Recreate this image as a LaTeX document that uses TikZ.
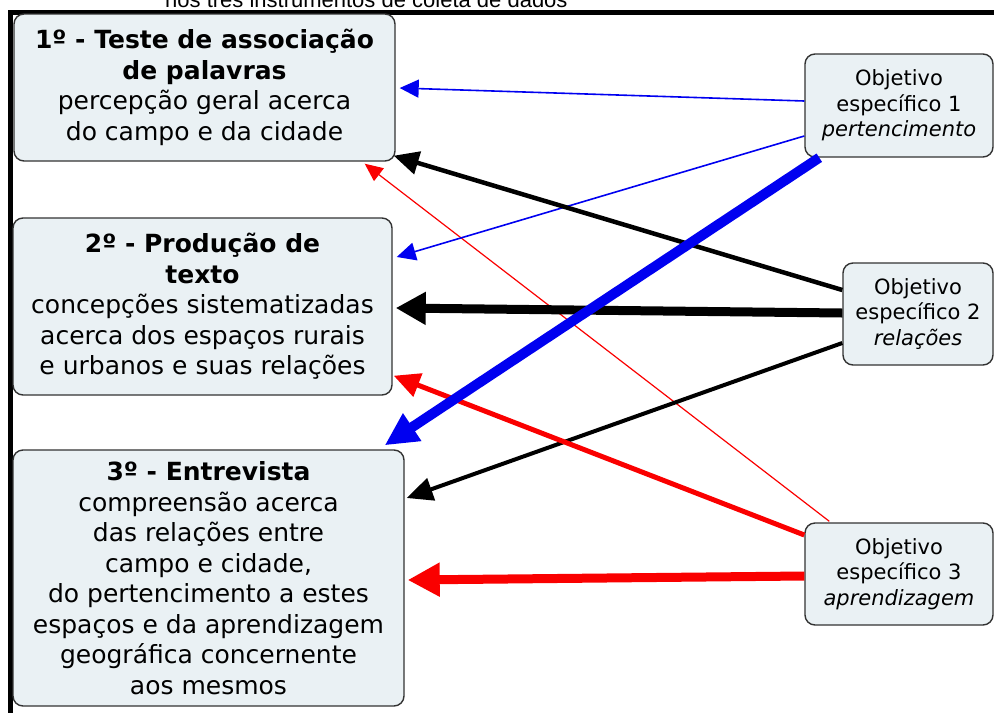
\documentclass[tikz,border=0pt]{standalone}
\usepackage{fontspec}
\setmainfont{DejaVu Sans}
\newfontfamily\capfont{Liberation Sans}
\usetikzlibrary{arrows.meta,calc}
\definecolor{boxfill}{HTML}{EAF1F4}
\definecolor{boxline}{HTML}{333333}
\definecolor{myblue}{RGB}{0,0,240}
\definecolor{myred}{RGB}{250,0,0}
\tikzset{
  instbox/.style={draw=boxline, line width=1.4pt, fill=boxfill, rounded corners=10pt,
    align=center, inner sep=0pt, font=\fontsize{25}{30.5}\selectfont},
  objbox/.style={draw=boxline, line width=1.4pt, fill=boxfill, rounded corners=10pt,
    align=center, inner sep=0pt, font=\fontsize{21}{25.5}\selectfont},
  conn/.style={line cap=butt},
}
\begin{document}
\begin{tikzpicture}[x=1pt,y=-1pt]
\useasboundingbox (0,0) rectangle (994,713);
\begin{scope}
\clip (0,0) rectangle (994,713);
\node[anchor=base west, inner sep=0pt, font=\capfont\fontsize{22}{26}\selectfont] (cap) at (165,7) {nos três instrumentos de coleta de dados};
\end{scope}
% frame
\fill[black] (8,10) rectangle (994,15);
\fill[black] (8,10) rectangle (13,713);

% instrument boxes
\node[instbox, minimum width=381pt, minimum height=147pt] (b1) at (204.5,87.5)
  {\textbf{1º - Teste de associação}\\\textbf{de palavras}\\percepção geral acerca\\do campo e da cidade};
\node[instbox, minimum width=379pt, minimum height=177pt] (b2) at (202.5,306.5)
  {\textbf{2º - Produção de}\\\textbf{texto}\\concepções sistematizadas\\acerca dos espaços rurais\\e urbanos e suas relações};
\node[instbox, minimum width=391pt, minimum height=256pt] (b3) at (208.5,578)
  {\textbf{3º - Entrevista}\\compreensão acerca\\das relações entre\\campo e cidade,\\do pertencimento a estes\\espaços e da aprendizagem\\geográfica concernente\\aos mesmos};

% objective boxes
\node[objbox, minimum width=188pt, minimum height=103pt] (o1) at (899,105.5)
  {Objetivo\\específico 1\\\textit{pertencimento}};
\node[objbox, minimum width=150pt, minimum height=102pt] (o2) at (918,314)
  {Objetivo\\específico 2\\\textit{relações}};
\node[objbox, minimum width=188pt, minimum height=102pt] (o3) at (899,574)
  {Objetivo\\específico 3\\\textit{aprendizagem}};

% connectors
\draw[conn, myred, line width=1.2pt, -{Triangle[length=18pt,width=16pt]}]
  ($(o3.north west)+(25,-1)$) -- ($(b1.south east)+(-31,2)$);
\draw[conn, myblue, line width=1.6pt, -{Triangle[length=19pt,width=18pt]}]
  ($(o1.west)+(0,-4.5)$) -- ($(b1.east)+(4,0.5)$);
\draw[conn, myblue, line width=1.6pt, -{Triangle[length=19pt,width=18pt]}]
  ($(o1.west)+(0,30.5)$) -- ($(b2.east)+(4,-49.5)$);
\draw[conn, black, line width=4.5pt, -{Triangle[length=25pt,width=23pt]}]
  ($(o2.west)+(0,-24)$) -- ($(b1.south east)+(-2,-6)$);
\draw[conn, black, line width=9pt, -{Triangle[length=30pt,width=31pt]}]
  ($(o2.west)+(0,-1)$) -- ($(b2.east)+(3,1.5)$);
\draw[conn, black, line width=4pt, -{Triangle[length=26pt,width=23pt]}]
  ($(o2.west)+(0,29)$) -- ($(b3.east)+(2,-80)$);
\draw[conn, myred, line width=5pt, -{Triangle[length=26pt,width=24pt]}]
  ($(o3.west)+(0,-39)$) -- ($(b2.south east)+(1,-20)$);
\draw[conn, myred, line width=9pt, -{Triangle[length=32pt,width=32pt]}]
  ($(o3.west)+(0,2)$) -- ($(b3.east)+(3,2)$);
\draw[conn, myblue, line width=10pt, -{Triangle[length=33pt,width=31pt]}]
  ($(o1.south west)+(15,0)$) -- ($(b3.north east)+(-20,-4)$);
\end{tikzpicture}
\end{document}
